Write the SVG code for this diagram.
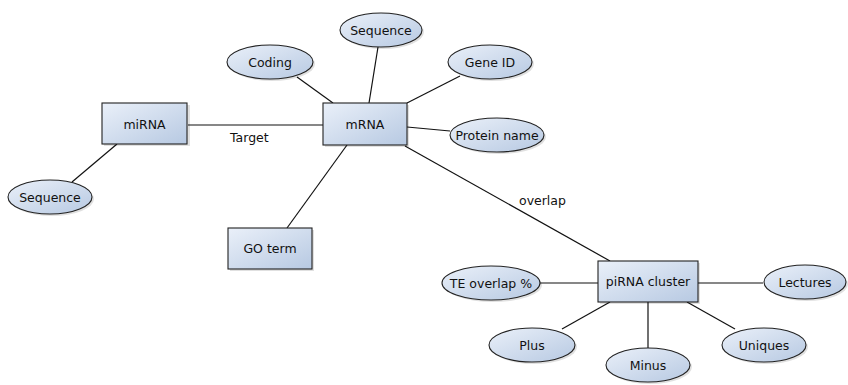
<svg xmlns="http://www.w3.org/2000/svg" width="848" height="385" viewBox="0 0 848 385">
<defs>
<linearGradient id="g" x1="0" y1="0" x2="1" y2="1">
<stop offset="0" stop-color="#eaf0f9"/>
<stop offset="1" stop-color="#b7c9e2"/>
</linearGradient>
<style>
.n{fill:url(#g);stroke:#222;stroke-width:1.1}
.s{fill:#000;opacity:0.12}
.c line{stroke:#111;stroke-width:1.2}
text{font-family:"DejaVu Sans",sans-serif;font-size:12.5px;fill:#111}
.m{text-anchor:middle;dominant-baseline:central}
</style>
</defs>
<rect width="848" height="385" fill="#fff"/>
<g id="connectors" class="c">
<line x1="188" y1="125" x2="323" y2="125"/>
<line x1="117" y1="144" x2="72" y2="182"/>
<line x1="297" y1="77" x2="333" y2="103"/>
<line x1="378" y1="47" x2="369" y2="103"/>
<line x1="460" y1="76" x2="407" y2="103"/>
<line x1="407" y1="127" x2="450" y2="131"/>
<line x1="347" y1="145" x2="287" y2="228"/>
<line x1="405" y1="146" x2="610" y2="261"/>
<line x1="540" y1="283" x2="598" y2="283"/>
<line x1="698" y1="283" x2="763" y2="283"/>
<line x1="610" y1="302" x2="562" y2="329"/>
<line x1="648" y1="302" x2="648" y2="348"/>
<line x1="687" y1="302" x2="735" y2="329"/>
<text x="230" y="142">Target</text>
<text x="519" y="205">overlap</text>
</g>
<g id="miRNA"><rect class="s" x="104" y="105" width="86" height="41"/><rect class="n" x="102" y="103" width="85" height="41"/><text class="m" x="144.5" y="124">miRNA</text></g>
<g id="mRNA"><rect class="s" x="325" y="105" width="84" height="42"/><rect class="n" x="323" y="103" width="84" height="42"/><text class="m" x="365" y="124">mRNA</text></g>
<g id="GOterm"><rect class="s" x="230" y="230" width="84" height="41"/><rect class="n" x="228" y="228" width="84" height="41"/><text class="m" x="270" y="248.5">GO term</text></g>
<g id="piRNAcluster"><rect class="s" x="600" y="263" width="100" height="41"/><rect class="n" x="598" y="261" width="100" height="41"/><text class="m" x="648" y="281.5">piRNA cluster</text></g>
<g id="seqLeft"><ellipse class="s" cx="52" cy="199" rx="42" ry="17"/><ellipse class="n" cx="50" cy="197" rx="42" ry="17"/><text class="m" x="50" y="197">Sequence</text></g>
<g id="coding"><ellipse class="s" cx="272" cy="64" rx="43" ry="17"/><ellipse class="n" cx="270" cy="62" rx="43" ry="17"/><text class="m" x="270" y="62">Coding</text></g>
<g id="seqTop"><ellipse class="s" cx="383" cy="32" rx="41" ry="17"/><ellipse class="n" cx="381" cy="30" rx="41" ry="17"/><text class="m" x="381" y="30">Sequence</text></g>
<g id="geneID"><ellipse class="s" cx="492" cy="64" rx="42" ry="17"/><ellipse class="n" cx="490" cy="62" rx="42" ry="17"/><text class="m" x="490" y="62">Gene ID</text></g>
<g id="proteinName"><ellipse class="s" cx="499" cy="137" rx="47" ry="17"/><ellipse class="n" cx="497" cy="135" rx="47" ry="17"/><text class="m" x="497" y="135">Protein name</text></g>
<g id="teOverlap"><ellipse class="s" cx="493" cy="285" rx="49" ry="17"/><ellipse class="n" cx="491" cy="283" rx="49" ry="17"/><text class="m" x="491" y="283">TE overlap %</text></g>
<g id="lectures"><ellipse class="s" cx="807" cy="284" rx="41" ry="17"/><ellipse class="n" cx="805" cy="282" rx="41" ry="17"/><text class="m" x="805" y="282">Lectures</text></g>
<g id="plus"><ellipse class="s" cx="534" cy="347" rx="43" ry="17"/><ellipse class="n" cx="532" cy="345" rx="43" ry="17"/><text class="m" x="532" y="345">Plus</text></g>
<g id="minus"><ellipse class="s" cx="650" cy="367" rx="42" ry="17"/><ellipse class="n" cx="648" cy="365" rx="42" ry="17"/><text class="m" x="648" y="365">Minus</text></g>
<g id="uniques"><ellipse class="s" cx="766" cy="347" rx="42" ry="17"/><ellipse class="n" cx="764" cy="345" rx="42" ry="17"/><text class="m" x="764" y="345">Uniques</text></g>
</svg>
